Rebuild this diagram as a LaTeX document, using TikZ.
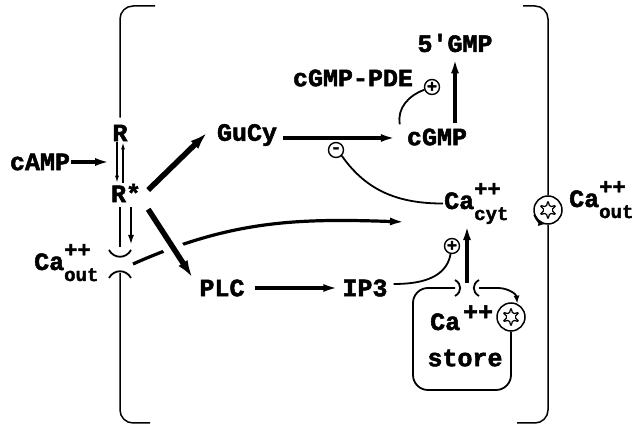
\documentclass[tikz,border=0pt]{standalone}
\usepackage{fontspec}
\setmonofont{Liberation Mono}[BoldFeatures={FakeBold=2}]
\usetikzlibrary{arrows.meta,shapes.geometric}
\newcommand{\CaIon}[1]{Ca\rlap{\raisebox{13pt}{\fontsize{22}{22}\selectfont ++}}\raisebox{-11pt}{\fontsize{19}{19}\selectfont #1}}

\begin{document}
\begin{tikzpicture}[x=1pt,y=1pt,
    lbl/.style={font=\fontsize{25}{25}\selectfont\ttfamily\bfseries, inner sep=1pt},
    wide/.style={line width=5.5pt, -{Latex[length=17pt,width=11pt]}},
    mid/.style={line width=3.2pt, -{Latex[length=15pt,width=8pt]}},
    slim/.style={line width=1.2pt, -{Latex[length=7pt,width=4pt]}},
    wall/.style={line width=1.5pt, rounded corners=13pt},
    reg/.style={line width=1.8pt},
    sign/.style={circle, draw, line width=1.4pt, minimum size=15pt, inner sep=0pt, font=\fontsize{17}{17}\selectfont\ttfamily\bfseries},
    pump/.style={circle, draw, line width=1.5pt, minimum size=28pt, inner sep=0pt},
    flower/.style={star, star points=6, star point ratio=2.7, draw, line width=1.2pt, rounded corners=1.6pt, minimum size=19pt, inner sep=0pt}]
    \useasboundingbox (0,0) rectangle (635,425);
    \node[lbl] (R) at (120,292) {R};
    \node[lbl] (Rs) at (126,232) {R*};
    \node[lbl] (cAMP) at (40,263) {cAMP};
    \coordinate (eq) at (110,263);
    \coordinate (chan) at (120,161);
    \node[lbl, anchor=base west] (CaOut) at (33,155) {\CaIon{out}};
    \node[lbl] (GuCy) at (247,290) {GuCy};
    \node[lbl] (cGMP) at (437,288) {cGMP};
    \node[lbl] (PDE) at (353,347) {cGMP-PDE};
    \node[lbl] (GMP5) at (455,382) {5\textquotesingle GMP};
    \node[lbl] (PLC) at (222,137) {PLC};
    \node[lbl] (IP3) at (365,137) {IP3};
    \node[lbl, anchor=base west] (CaCyt) at (443,216) {\CaIon{cyt}};
    \node[lbl, anchor=base west] (CaOutR) at (568,218) {\CaIon{out}};
    \node[lbl, anchor=base west] (CaStore) at (429,95) {Ca\hspace{3pt}\raisebox{10pt}{++}};
    \node[lbl] (store) at (465,67) {store};
    \node[sign] (minus) at (336,275) {-};
    \node[sign] (plusPDE) at (432,338) {+};
    \node[sign] (plusIP3) at (452,179) {+};
    \node[pump] (pumpR) at (548,215) {};
    \node[flower] (starR) at (pumpR) {};
    \node[pump] (pumpS) at (511,108) {};
    \node[flower] (starS) at (pumpS) {};
    \coordinate (stch) at (467,137);
    \coordinate (caEnd) at (405,203);

    \draw[wall] (155,419) -- (120,419) -- ([yshift=6pt]R.north);
    \draw[reg] ([xshift=-6pt,yshift=-4pt]Rs.south) -- ([yshift=17pt]chan);
    \draw[reg] (109,175) .. controls (114,166) and (126,166) .. (131,175);
    \draw[reg] (109,147) .. controls (114,156) and (126,156) .. (131,147);
    \draw[wall] ([yshift=-9pt]chan) -- (120,2) -- (150,2);
    \draw[wall] (523,419) -- (548,419) -- (pumpR.north);
    \draw[wall] (pumpR.south) -- (548,2) -- (517,2);
    \draw[line width=1.5pt, -{Latex[length=7pt,width=6pt]}] (pumpR.200) arc[start angle=200, end angle=262, radius=14pt];

    \draw[mid] (cAMP) -- (eq);
    \draw[slim] ([xshift=-3pt]R.south) -- ([xshift=-9pt]Rs.north);
    \draw[slim] ([xshift=-3pt]Rs.north) -- ([xshift=3pt]R.south);
    \draw[line width=2pt, -{Latex[length=10pt,width=6pt]}] ([xshift=5pt,yshift=-4pt]Rs.south) -- ([xshift=11pt,yshift=19pt]chan);

    \draw[mid] ([xshift=13pt]chan) to[out=24, in=178] (caEnd);
    \draw[wide] ([xshift=6pt,yshift=3pt]Rs.east) -- ([xshift=-9pt,yshift=2pt]GuCy.west);
    \draw[white, line width=20pt, shorten <=34pt, shorten >=24pt] ([xshift=6pt,yshift=-6pt]Rs.south east) -- ([xshift=-6pt,yshift=1pt]PLC.north west);
    \draw[wide] ([xshift=6pt,yshift=-6pt]Rs.south east) -- ([xshift=-6pt,yshift=1pt]PLC.north west);

    \draw[mid, shorten <=5pt, shorten >=10pt] ([yshift=-3pt]GuCy.east) -- ([yshift=-3pt]GuCy.east -| cGMP.west);
    \draw[reg] (minus.south east) to[out=-55, in=180] (CaCyt.west);
    \draw[reg] ([xshift=-6pt,yshift=3pt]cGMP.north west) to[out=100, in=200] (plusPDE);
    \draw[mid, shorten <=4pt, shorten >=5pt] (GMP5.south |- cGMP.north) -- (GMP5.south);

    \draw[mid, shorten <=9pt, shorten >=3pt] (PLC) -- (IP3);
    \draw[reg, shorten <=5pt] ([yshift=4pt]IP3.east) to[out=0, in=-100] (plusIP3);
    \draw[mid] ([yshift=5pt]stch) -- (stch |- CaCyt.south);

    \draw[reg] (455,145) .. controls (462,141) and (462,133) .. (455,129);
    \draw[reg] (479,145) .. controls (472,141) and (472,133) .. (479,129);
    \draw[reg, rounded corners=15pt] (455,137) -- (413,137) -- (413,35) -- (511,35) -- (pumpS.south);
    \draw[reg, -{Latex[length=8pt,width=6pt]}] (479,137) -- (498,137) to[out=0, in=95] (pumpS.65);
\end{tikzpicture}
\end{document}
